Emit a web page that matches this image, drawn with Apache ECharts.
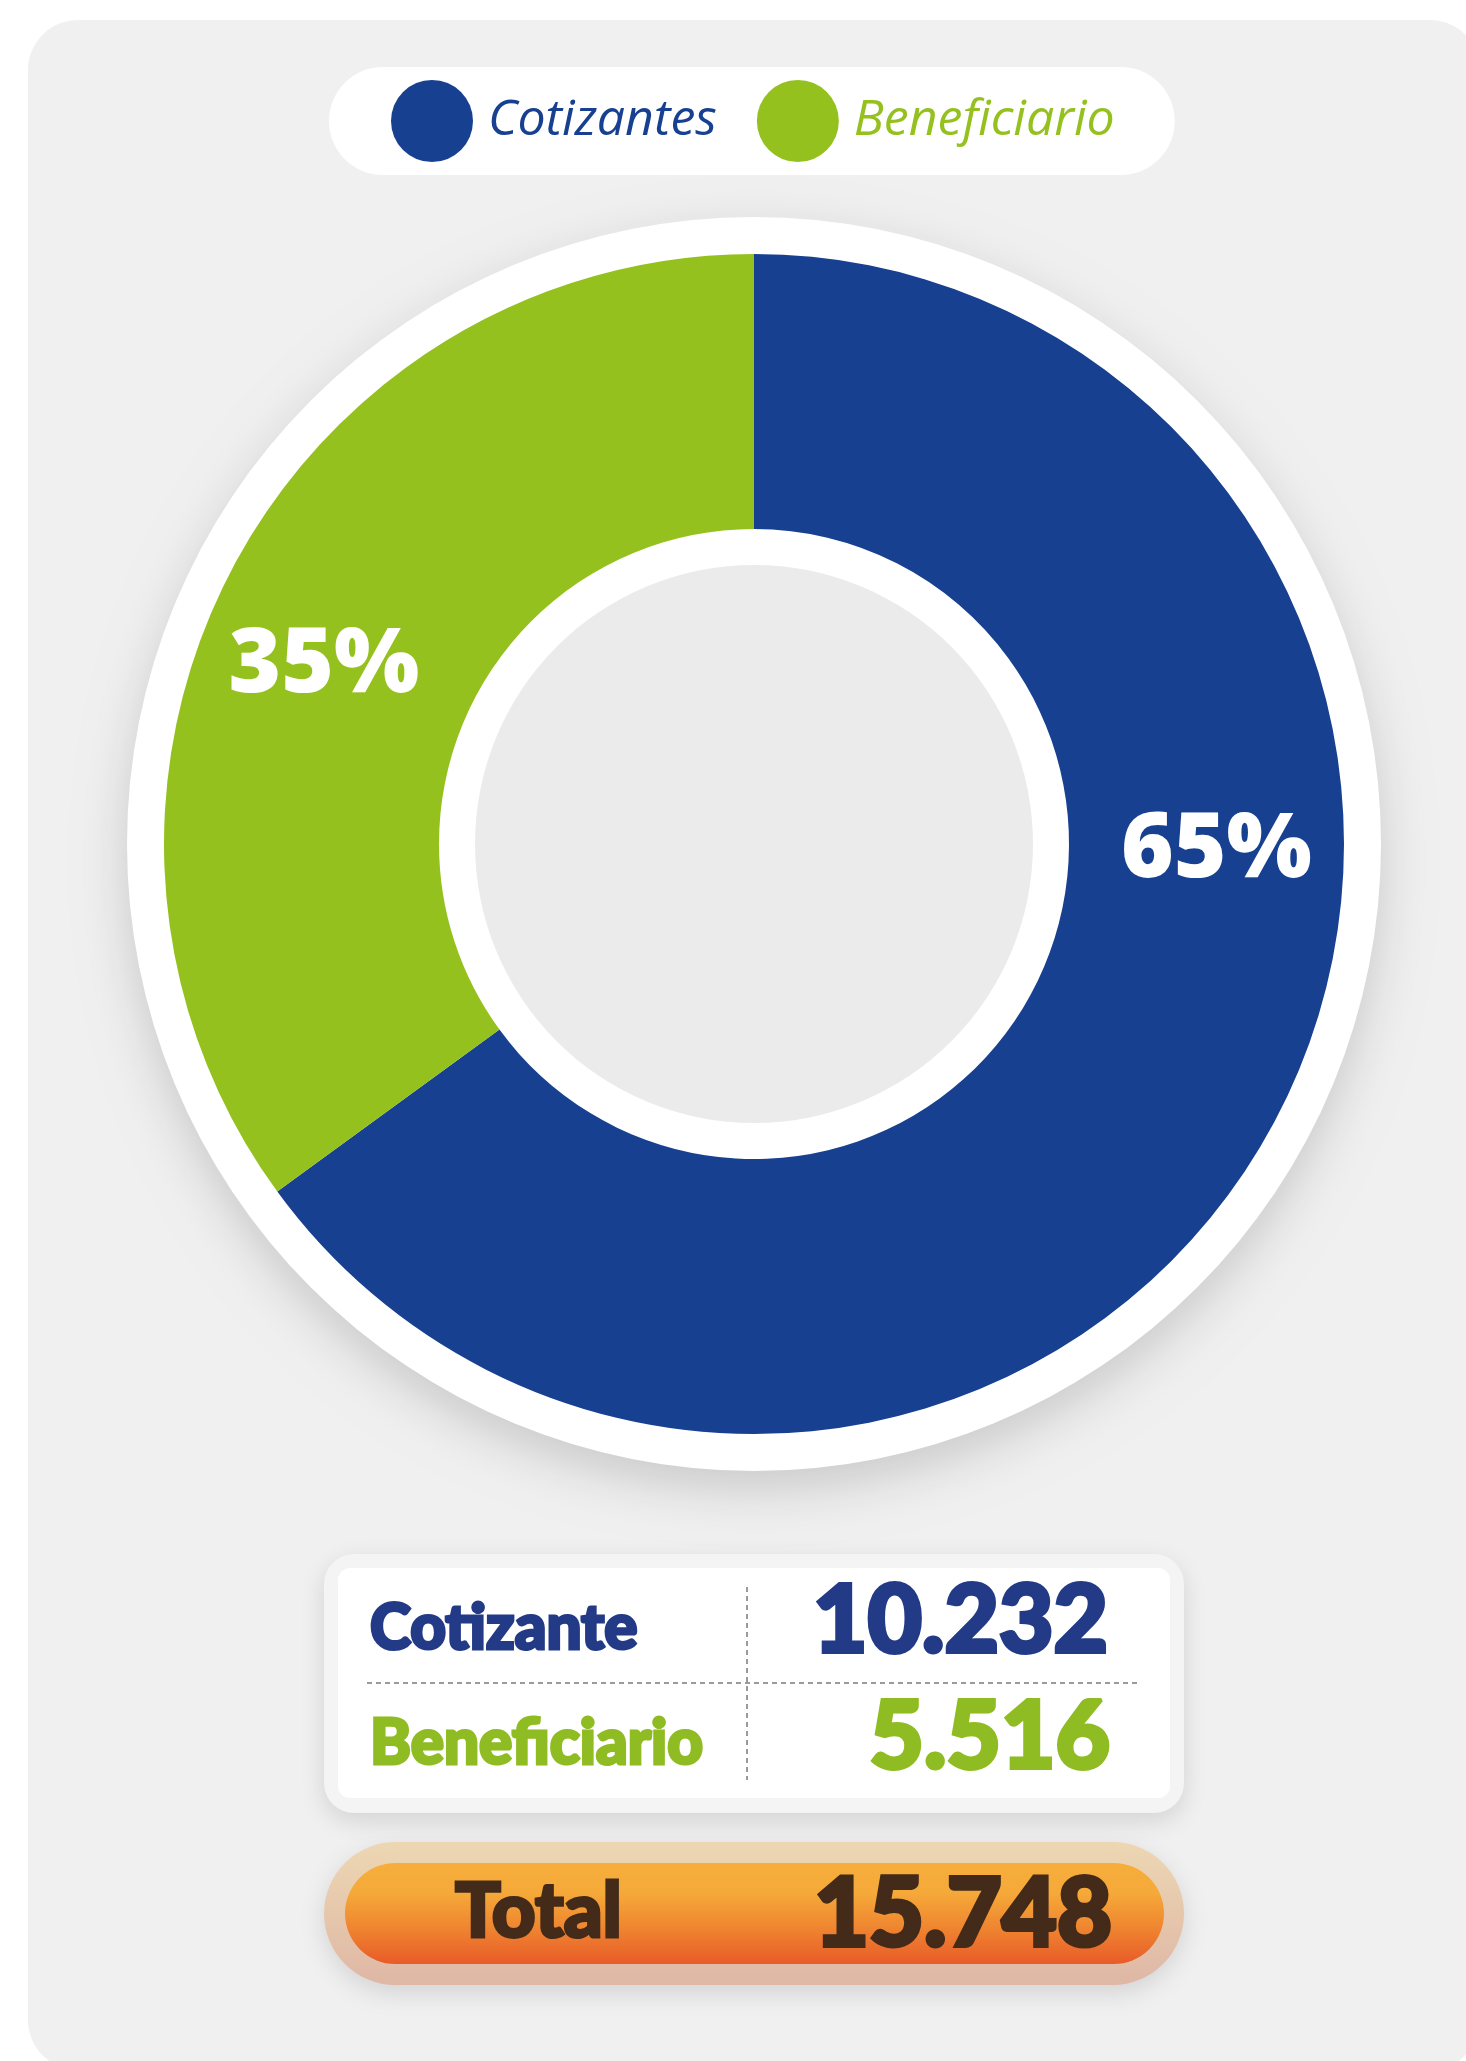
<!DOCTYPE html>
<html>
<head>
<meta charset="utf-8">
<title>Cotizantes y Beneficiarios</title>
<script src="https://cdn.jsdelivr.net/npm/echarts@6/dist/echarts.min.js"></script>
<style>
  html, body { margin: 0; padding: 0; background: #fff; }
  #chart { width: 1466px; height: 2061px; }
</style>
</head>
<body>
<div id="chart"></div>
<script>
// data
const categories = ["Cotizantes", "Beneficiario"];
const tableLabels = ["Cotizante", "Beneficiario"];
const values = [10232, 5516];
const colors = ["#174091", "#95c11f"];
const tableColors = ["#233a87", "#8fbc22"];
const totalLabel = "Total";

const cx = 754, cy = 844;
const rOuter = 590, rInner = 315;

function fmt(v) {
  return String(v).replace(/\B(?=(\d{3})+(?!\d))/g, ".");
}
const total = values.reduce((a, b) => a + b, 0);

const heavy = "Lato, 'Noto Sans', sans-serif";

// heavy text: fill plus same-colour stroke to fatten the glyphs
function boldText(x, y, text, size, color, align, stroke) {
  return {
    type: "text",
    silent: true,
    style: {
      x: x, y: y, text: text,
      font: "900 " + size + "px " + heavy,
      fill: color,
      stroke: color,
      lineWidth: stroke,
      align: align,
      verticalAlign: "bottom",
    },
  };
}

const chart = echarts.init(document.getElementById("chart"));
chart.setOption({
  animation: false,
  legend: {
    top: 67,
    left: 329,
    icon: "circle",
    itemWidth: 82,
    itemHeight: 82,
    itemGap: 40,
    padding: [13, 60, 13, 62],
    backgroundColor: "#fff",
    borderRadius: 54,
    selectedMode: false,
    textStyle: {
      fontFamily: "'Liberation Sans Narrow', 'Open Sans', sans-serif",
      fontStyle: "italic",
      fontSize: 50,
      padding: [10, 0, 0, 10],
    },
    data: categories.map((c, i) => ({ name: c, textStyle: { color: colors[i] } })),
  },
  graphic: [
    // panel background
    {
      type: "rect",
      z: -10,
      silent: true,
      shape: { x: 28, y: 20, width: 1452, height: 2050, r: 50 },
      style: { fill: "#f0f0f0" },
    },
    // table box
    {
      type: "rect",
      silent: true,
      shape: { x: 324, y: 1554, width: 860, height: 259, r: 30 },
      style: {
        fill: "#f4f4f4",
        shadowColor: "rgba(0,0,0,0.12)",
        shadowBlur: 24,
        shadowOffsetY: 8,
      },
    },
    {
      type: "rect",
      silent: true,
      shape: { x: 338, y: 1568, width: 832, height: 230, r: 12 },
      style: { fill: "#fff" },
    },
    {
      type: "line",
      silent: true,
      shape: { x1: 367, y1: 1683, x2: 1141, y2: 1683 },
      style: { stroke: "#7a7a7a", lineWidth: 1.5, lineDash: [5, 4] },
    },
    {
      type: "line",
      silent: true,
      shape: { x1: 747, y1: 1587, x2: 747, y2: 1780 },
      style: { stroke: "#7a7a7a", lineWidth: 1.5, lineDash: [5, 4] },
    },
    boldText(370, 1660, tableLabels[0], 62, tableColors[0], "left", 3),
    boldText(1108, 1669, fmt(values[0]), 94, tableColors[0], "right", 4),
    boldText(370, 1775, tableLabels[1], 62, tableColors[1], "left", 3),
    boldText(1110, 1785, fmt(values[1]), 94, tableColors[1], "right", 4),
    // total pill
    {
      type: "rect",
      silent: true,
      shape: { x: 324, y: 1842, width: 860, height: 143, r: 71.5 },
      style: {
        fill: new echarts.graphic.LinearGradient(0, 0, 0, 1, [
          { offset: 0, color: "#edd7b3" },
          { offset: 1, color: "#dfb7a5" },
        ]),
        shadowColor: "rgba(0,0,0,0.12)",
        shadowBlur: 24,
        shadowOffsetY: 8,
      },
    },
    {
      type: "rect",
      silent: true,
      shape: { x: 345, y: 1863, width: 819, height: 101, r: 50.5 },
      style: {
        fill: new echarts.graphic.LinearGradient(0, 0, 0, 1, [
          { offset: 0, color: "#f6ae3b" },
          { offset: 0.3, color: "#f5a939" },
          { offset: 0.65, color: "#ef8430" },
          { offset: 1, color: "#e85b28" },
        ]),
      },
    },
    boldText(455, 1950, totalLabel, 76, "#432a19", "left", 3),
    boldText(1112, 1963, fmt(total), 95, "#432a19", "right", 4),
  ],
  series: [
    {
      // white ring with drop shadow
      type: "pie",
      silent: true,
      center: [cx, cy],
      radius: [0, 627],
      label: { show: false },
      labelLine: { show: false },
      itemStyle: {
        color: "#fff",
        shadowColor: "rgba(0,0,0,0.16)",
        shadowBlur: 50,
        shadowOffsetY: 18,
      },
      data: [{ value: 1, name: "base" }],
      legendHoverLink: false,
    },
    {
      // grey centre
      type: "pie",
      silent: true,
      center: [cx, cy],
      radius: [0, 279],
      label: { show: false },
      labelLine: { show: false },
      itemStyle: { color: "#ebebeb" },
      data: [{ value: 1, name: "hole" }],
    },
    {
      type: "pie",
      silent: true,
      center: [cx, cy],
      radius: [rInner, rOuter],
      startAngle: 90,
      clockwise: true,
      label: {
        show: true,
        position: "inside",
        color: "#fff",
        fontFamily: "'Open Sans', sans-serif",
        fontWeight: 800,
        fontSize: 90,
        formatter: (p) => Math.round(p.percent) + "%",
      },
      labelLayout: function (p) {
        if (p.dataIndex === 0) {
          return { x: cx + (rInner + rOuter) / 2 + 10, y: cy + 7, align: "center", verticalAlign: "middle" };
        }
        return { dx: -24, dy: 29 };
      },
      labelLine: { show: false },
      data: categories.map((c, i) => ({
        name: c,
        value: values[i],
        itemStyle: { color: colors[i] },
      })),
    },
  ],
});
</script>
</body>
</html>
